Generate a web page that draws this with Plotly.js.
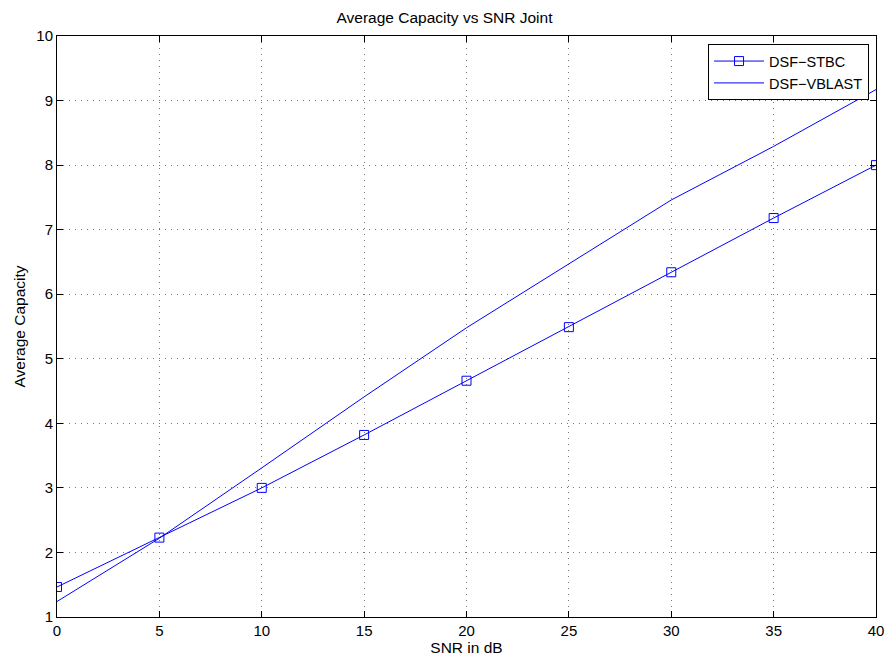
<!DOCTYPE html>
<html><head><meta charset="utf-8">
<script src="https://cdn.plot.ly/plotly-3.0.1.min.js"></script>
<style>body{margin:0;padding:0;background:#fff}#chart{width:889px;height:664px}</style>
</head><body><div id="chart"></div>
<script>
const snr = [0, 5, 10, 15, 20, 25, 30, 35, 40];
const stbc = [1.465, 2.23, 3.0, 3.82, 4.66, 5.49, 6.34, 7.18, 8.0];
const vblast = [1.24, 2.22, 3.31, 4.41, 5.48, 6.47, 7.46, 8.29, 9.17];
const xTicks = [0, 5, 10, 15, 20, 25, 30, 35, 40];
const yTicks = [1, 2, 3, 4, 5, 6, 7, 8, 9, 10];

const fontFam = 'Liberation Sans, Arial, Helvetica, sans-serif';
const traces = [
  {x: snr, y: stbc, name: 'DSF\u2212STBC', mode: 'lines+markers', type: 'scatter',
   line: {color: '#0000ff', width: 1},
   marker: {symbol: 'square-open', size: 9, color: '#0000ff', line: {width: 1}}},
  {x: snr, y: vblast, name: 'DSF\u2212VBLAST', mode: 'lines', type: 'scatter',
   line: {color: '#0000ff', width: 1}}
];
const axisCommon = {
  showline: true, linecolor: '#000', linewidth: 1, mirror: 'allticks',
  ticks: 'inside', ticklen: 6, tickcolor: '#000', tickwidth: 1,
  showgrid: true, gridcolor: '#777777', griddash: '1px,5px', gridwidth: 1,
  zeroline: false, tickfont: {family: fontFam, size: 15, color: '#000'}
};
const layout = {
  width: 889, height: 664,
  margin: {l: 57, r: 13, t: 36, b: 47},
  paper_bgcolor: '#fff', plot_bgcolor: '#fff',
  font: {family: fontFam, size: 15, color: '#000'},
  title: {text: 'Average Capacity vs SNR Joint', x: 0.5, xanchor: 'center', y: 0.973, yanchor: 'middle',
          font: {family: fontFam, size: 15.5, color: '#000'}},
  xaxis: Object.assign({}, axisCommon, {range: [0, 40], tickvals: xTicks, ticktext: xTicks.map(String),
          title: {text: 'SNR in dB', standoff: 0, font: {family: fontFam, size: 15.5, color: '#000'}}}),
  yaxis: Object.assign({}, axisCommon, {range: [1, 10], tickvals: yTicks, ticktext: yTicks.map(String),
          title: {text: 'Average Capacity', standoff: 6, font: {family: fontFam, size: 15.5, color: '#000'}}}),
  legend: {x: 0.9915, xanchor: 'right', y: 0.986, yanchor: 'top', bordercolor: '#000', borderwidth: 1,
           bgcolor: '#fff', font: {family: fontFam, size: 14.5, color: '#000'}, tracegroupgap: 0,
           itemwidth: 50},
  showlegend: true
};
Plotly.newPlot('chart', traces, layout, {displayModeBar: false, staticPlot: true});
</script></body></html>
